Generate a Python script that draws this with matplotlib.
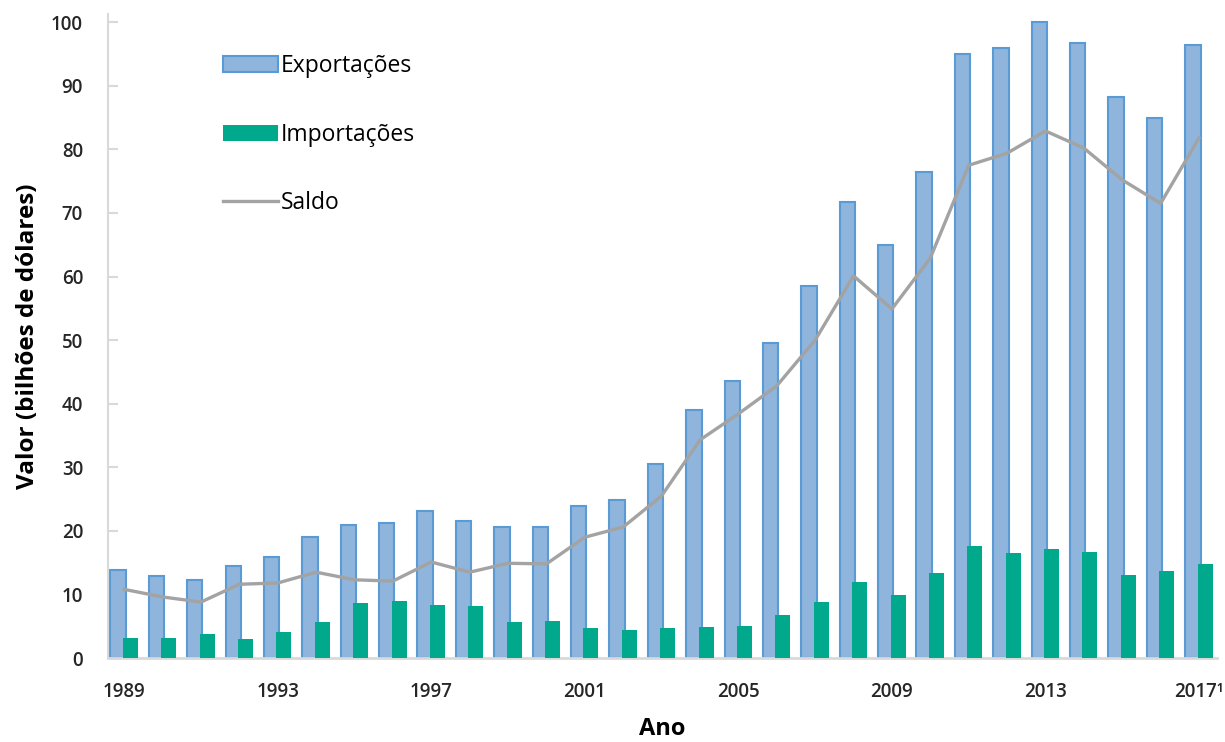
import numpy as np
import matplotlib
matplotlib.use('Agg')
import matplotlib.pyplot as plt
from matplotlib.patches import Patch
from matplotlib.lines import Line2D

plt.rcParams['font.family'] = ['Open Sans', 'DejaVu Sans']

anos = np.arange(1989, 2018)
exportacoes = [13.8, 12.9, 12.3, 14.5, 15.9, 19.0, 20.9, 21.2, 23.1, 21.5,
               20.6, 20.6, 23.9, 24.8, 30.5, 39.0, 43.6, 49.5, 58.5, 71.7,
               64.9, 76.4, 95.0, 95.9, 100.0, 96.7, 88.2, 84.9, 96.4]
importacoes = [3.1, 3.2, 3.8, 3.0, 4.1, 5.7, 8.7, 9.0, 8.3, 8.2,
               5.7, 5.8, 4.7, 4.4, 4.7, 4.9, 5.0, 6.7, 8.8, 11.9,
               9.9, 13.4, 17.6, 16.5, 17.1, 16.7, 13.0, 13.7, 14.8]
saldo = [10.8, 9.6, 8.8, 11.6, 11.8, 13.5, 12.3, 12.1, 15.1, 13.5,
         14.9, 14.8, 19.0, 20.6, 25.5, 34.3, 38.4, 42.8, 50.0, 60.1,
         54.9, 62.9, 77.5, 79.4, 82.9, 80.2, 75.2, 71.5, 81.8]
ticks_x = [1989, 1993, 1997, 2001, 2005, 2009, 2013, 2017]
rotulos_x = ['1989', '1993', '1997', '2001', '2005', '2009', '2013', '2017\u00b9']

cor_exp = '#8fb5dc'
borda_exp = '#5b9bd5'
cor_imp = '#00a98c'
cor_saldo = '#a3a3a3'

fig = plt.figure(figsize=(12.25, 7.42), dpi=100)
ax = fig.add_axes([0.0882, 0.1132, 0.9053, 0.868])

ax.bar(anos - 0.16, exportacoes, width=0.40, color=cor_exp,
       edgecolor=borda_exp, linewidth=1.5, zorder=2)
ax.bar(anos + 0.16, importacoes, width=0.39, color=cor_imp, zorder=3)
ax.plot(anos, saldo, color=cor_saldo, lw=2.4, zorder=4)

ax.set_xlim(1988.58, 2017.47)
ax.set_ylim(0, 101.3)
ax.set_yticks(range(0, 101, 10))
ax.set_xticks(ticks_x)
ax.set_xticklabels(rotulos_x)

for s in ['top', 'right']:
    ax.spines[s].set_visible(False)
ax.spines['left'].set_color('#d9d9d9')
ax.spines['bottom'].set_color('#d9d9d9')
ax.spines['left'].set_linewidth(1.5)
ax.spines['bottom'].set_linewidth(2)

ax.tick_params(axis='y', direction='in', length=7, width=1.5, color='#d9d9d9',
               pad=18, labelsize=13.5, labelcolor='#262626')
ax.tick_params(axis='x', length=0, pad=17, labelsize=13.5, labelcolor='#262626')
for t in ax.get_xticklabels() + ax.get_yticklabels():
    t.set_fontweight('semibold')

ax.set_xlabel('Ano', fontsize=17, fontweight='bold', labelpad=11)
ax.set_ylabel('Valor (bilhões de dólares)', fontsize=17.5, fontweight='bold', labelpad=8)

handles = [Patch(facecolor=cor_exp, edgecolor=borda_exp, linewidth=1.5),
           Patch(facecolor=cor_imp),
           Line2D([0], [0], color=cor_saldo, lw=2.4)]
ax.legend(handles, ['Exportações', 'Importações', 'Saldo'],
          loc='upper left', bbox_to_anchor=(223 / 1225, 1 - 54 / 742),
          bbox_transform=fig.transFigure, frameon=False, fontsize=16.5,
          handlelength=2.4, handletextpad=0.12, labelspacing=1.95,
          borderaxespad=0, borderpad=0)

fig.savefig('out.png', dpi=100)
